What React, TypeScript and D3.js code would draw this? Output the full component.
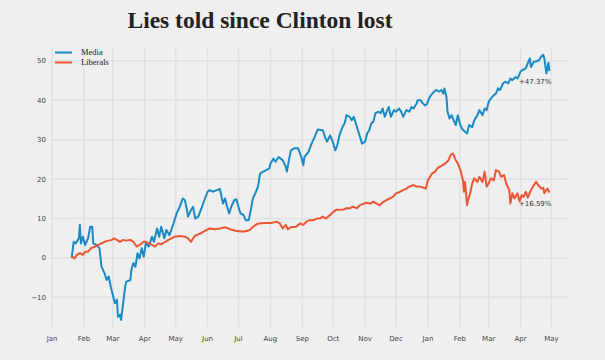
import React from "react";
import * as d3 from "d3";

const seriesNames = ["Media", "Liberals"];
const title = "Lies told since Clinton lost";
const monthLabels = ["Jan", "Feb", "Mar", "Apr", "May", "Jun", "Jul", "Aug", "Sep", "Oct", "Nov", "Dec", "Jan", "Feb", "Mar", "Apr", "May"];
const monthTickDates = ["2017-01-01", "2017-02-01", "2017-03-01", "2017-04-01", "2017-05-01", "2017-06-01", "2017-07-01", "2017-08-01", "2017-09-01", "2017-10-01", "2017-11-01", "2017-12-01", "2018-01-01", "2018-02-01", "2018-03-01", "2018-04-01", "2018-05-01"];
const yTicks = [-10, 0, 10, 20, 30, 40, 50];

const mediaDates = [
  "2017-01-20", "2017-01-22", "2017-01-24", "2017-01-27", "2017-01-28", "2017-01-29", "2017-01-31", "2017-02-02", "2017-02-05", "2017-02-07",
  "2017-02-09", "2017-02-10", "2017-02-13", "2017-02-16", "2017-02-18", "2017-02-21", "2017-02-23", "2017-02-25", "2017-02-27", "2017-03-01",
  "2017-03-03", "2017-03-05", "2017-03-06", "2017-03-08", "2017-03-09", "2017-03-11", "2017-03-13", "2017-03-14", "2017-03-18", "2017-03-19",
  "2017-03-21", "2017-03-23", "2017-03-25", "2017-03-27", "2017-03-29", "2017-03-31", "2017-04-02", "2017-04-05", "2017-04-08", "2017-04-10",
  "2017-04-13", "2017-04-15", "2017-04-17", "2017-04-20", "2017-04-22", "2017-04-25", "2017-04-29", "2017-05-02", "2017-05-05", "2017-05-08",
  "2017-05-10", "2017-05-12", "2017-05-13", "2017-05-16", "2017-05-18", "2017-05-20", "2017-05-23", "2017-05-26", "2017-05-29", "2017-06-01",
  "2017-06-03", "2017-06-06", "2017-06-10", "2017-06-13", "2017-06-16", "2017-06-18", "2017-06-20", "2017-06-22", "2017-06-24", "2017-06-27",
  "2017-06-29", "2017-07-01", "2017-07-03", "2017-07-06", "2017-07-08", "2017-07-11", "2017-07-13", "2017-07-15", "2017-07-18", "2017-07-20",
  "2017-07-22", "2017-07-25", "2017-07-28", "2017-07-31", "2017-08-01", "2017-08-04", "2017-08-06", "2017-08-09", "2017-08-11", "2017-08-13",
  "2017-08-16", "2017-08-17", "2017-08-19", "2017-08-21", "2017-08-24", "2017-08-28", "2017-08-31", "2017-09-02", "2017-09-03", "2017-09-07",
  "2017-09-10", "2017-09-13", "2017-09-16", "2017-09-20", "2017-09-21", "2017-09-23", "2017-09-25", "2017-09-28", "2017-09-30", "2017-10-03",
  "2017-10-05", "2017-10-07", "2017-10-10", "2017-10-12", "2017-10-14", "2017-10-17", "2017-10-19", "2017-10-21", "2017-10-23", "2017-10-25",
  "2017-10-27", "2017-10-29", "2017-11-01", "2017-11-03", "2017-11-05", "2017-11-07", "2017-11-09", "2017-11-11", "2017-11-14", "2017-11-16",
  "2017-11-18", "2017-11-20", "2017-11-22", "2017-11-24", "2017-11-26", "2017-11-29", "2017-12-01", "2017-12-04", "2017-12-06", "2017-12-08",
  "2017-12-11", "2017-12-14", "2017-12-16", "2017-12-18", "2017-12-21", "2017-12-22", "2017-12-25", "2017-12-27", "2017-12-29", "2017-12-31",
  "2018-01-02", "2018-01-04", "2018-01-07", "2018-01-09", "2018-01-12", "2018-01-14", "2018-01-16", "2018-01-17", "2018-01-19", "2018-01-20",
  "2018-01-22", "2018-01-24", "2018-01-26", "2018-01-28", "2018-01-30", "2018-02-01", "2018-02-03", "2018-02-06", "2018-02-08", "2018-02-10",
  "2018-02-13", "2018-02-15", "2018-02-18", "2018-02-20", "2018-02-23", "2018-02-25", "2018-02-27", "2018-03-01", "2018-03-03", "2018-03-06",
  "2018-03-08", "2018-03-10", "2018-03-12", "2018-03-15", "2018-03-17", "2018-03-20", "2018-03-22", "2018-03-24", "2018-03-27", "2018-03-29",
  "2018-04-01", "2018-04-03", "2018-04-06", "2018-04-08", "2018-04-10", "2018-04-11", "2018-04-14", "2018-04-16", "2018-04-19", "2018-04-21",
  "2018-04-23", "2018-04-24", "2018-04-26", "2018-04-28", "2018-04-29"
];
const mediaValues = [
  0.0, 4.1, 3.7, 5.0, 8.4, 3.7, 5.4, 3.3, 5.0, 7.9,
  7.9, 3.7, 3.3, 2.5, -2.2, -3.9, -5.6, -4.7, -7.3, -9.4,
  -11.5, -10.6, -14.9, -14.4, -15.7, -11.5, -7.3, -6.0, -5.6, -3.0,
  -1.3, -2.2, 1.2, -0.1, 2.5, 0.3, 3.7, 2.9, 5.4, 4.1,
  7.5, 5.4, 7.9, 5.0, 7.1, 5.8, 8.8, 11.3, 13.0, 15.1,
  14.7, 12.2, 10.5, 12.2, 13.0, 10.0, 10.5, 12.6, 14.7, 16.8,
  17.2, 16.8, 17.2, 17.5, 13.8, 15.1, 13.0, 11.3, 13.0, 14.7,
  14.9, 13.0, 11.3, 10.9, 9.6, 9.6, 12.2, 15.1, 16.8, 18.1,
  21.4, 21.9, 22.3, 22.7, 23.9, 25.2, 24.4, 25.6, 25.2, 24.8,
  23.1, 21.9, 24.8, 27.3, 27.8, 27.8, 25.6, 23.5, 25.6, 26.9,
  29.0, 30.7, 32.6, 32.4, 32.4, 30.7, 29.5, 31.1, 29.9, 27.3,
  28.6, 31.1, 33.2, 34.1, 36.2, 35.8, 34.9, 35.8, 34.1, 32.4,
  30.7, 29.0, 29.5, 31.6, 32.4, 34.1, 34.6, 36.7, 37.1, 36.7,
  37.9, 35.8, 37.1, 38.3, 35.8, 37.5, 37.1, 37.9, 37.1, 35.8,
  37.5, 37.1, 38.3, 37.9, 39.2, 40.0, 40.0, 39.2, 38.7, 39.0,
  40.4, 41.3, 42.2, 42.6, 42.2, 42.6, 41.7, 43.0, 40.8, 37.1,
  35.4, 36.2, 34.9, 33.7, 36.2, 34.1, 32.8, 32.0, 31.6, 33.7,
  33.2, 34.9, 36.2, 37.5, 36.2, 37.9, 37.5, 39.6, 40.4, 41.3,
  41.7, 43.0, 42.6, 44.3, 44.7, 44.3, 45.5, 45.1, 45.9, 45.5,
  47.3, 47.7, 48.1, 49.4, 50.6, 48.4, 49.8, 49.8, 50.2, 51.1,
  51.5, 50.6, 46.8, 49.5, 47.37
];

const liberalDates = [
  "2017-01-20", "2017-01-21", "2017-01-23", "2017-01-25", "2017-01-28", "2017-01-31", "2017-02-02", "2017-02-05", "2017-02-08", "2017-02-12",
  "2017-02-15", "2017-02-18", "2017-02-21", "2017-02-25", "2017-02-28", "2017-03-02", "2017-03-05", "2017-03-08", "2017-03-11", "2017-03-14",
  "2017-03-18", "2017-03-21", "2017-03-24", "2017-03-27", "2017-03-31", "2017-04-02", "2017-04-05", "2017-04-08", "2017-04-11", "2017-04-14",
  "2017-04-17", "2017-04-21", "2017-04-24", "2017-04-27", "2017-04-30", "2017-05-05", "2017-05-10", "2017-05-13", "2017-05-16", "2017-05-19",
  "2017-05-21", "2017-05-25", "2017-05-28", "2017-05-31", "2017-06-03", "2017-06-08", "2017-06-13", "2017-06-18", "2017-06-23", "2017-06-28",
  "2017-07-03", "2017-07-07", "2017-07-12", "2017-07-15", "2017-07-19", "2017-07-23", "2017-07-28", "2017-08-02", "2017-08-07", "2017-08-10",
  "2017-08-13", "2017-08-16", "2017-08-18", "2017-08-21", "2017-08-26", "2017-08-30", "2017-09-02", "2017-09-05", "2017-09-08", "2017-09-12",
  "2017-09-15", "2017-09-18", "2017-09-21", "2017-09-24", "2017-09-28", "2017-10-01", "2017-10-04", "2017-10-07", "2017-10-11", "2017-10-14",
  "2017-10-17", "2017-10-20", "2017-10-24", "2017-10-27", "2017-10-30", "2017-11-02", "2017-11-06", "2017-11-09", "2017-11-12", "2017-11-15",
  "2017-11-19", "2017-11-22", "2017-11-25", "2017-11-28", "2017-12-01", "2017-12-05", "2017-12-08", "2017-12-11", "2017-12-14", "2017-12-18",
  "2017-12-21", "2017-12-24", "2017-12-28", "2017-12-30", "2018-01-01", "2018-01-05", "2018-01-08", "2018-01-10", "2018-01-12", "2018-01-15",
  "2018-01-18", "2018-01-21", "2018-01-23", "2018-01-25", "2018-01-26", "2018-01-28", "2018-01-30", "2018-02-02", "2018-02-04", "2018-02-05",
  "2018-02-06", "2018-02-08", "2018-02-09", "2018-02-11", "2018-02-13", "2018-02-15", "2018-02-18", "2018-02-20", "2018-02-23", "2018-02-25",
  "2018-02-27", "2018-03-01", "2018-03-03", "2018-03-06", "2018-03-08", "2018-03-11", "2018-03-13", "2018-03-16", "2018-03-18", "2018-03-21",
  "2018-03-22", "2018-03-24", "2018-03-26", "2018-03-29", "2018-03-31", "2018-04-02", "2018-04-04", "2018-04-06", "2018-04-08", "2018-04-11",
  "2018-04-13", "2018-04-16", "2018-04-18", "2018-04-21", "2018-04-23", "2018-04-24", "2018-04-27", "2018-04-29"
];
const liberalValues = [
  0.0, 0.3, -0.1, 0.8, 1.2, 0.8, 1.6, 1.6, 2.5, 2.9,
  3.3, 3.7, 4.1, 4.4, 4.6, 5.0, 4.6, 4.1, 4.6, 4.4,
  4.6, 4.1, 2.9, 3.3, 4.1, 4.1, 3.7, 3.3, 2.9, 3.7,
  3.5, 4.1, 4.6, 5.0, 5.4, 5.6, 5.4, 5.0, 4.1, 5.4,
  5.8, 6.2, 6.7, 7.1, 7.5, 7.3, 7.5, 7.8, 7.3, 6.9,
  6.7, 6.7, 7.1, 7.9, 8.6, 8.8, 8.9, 8.9, 9.2, 8.8,
  7.5, 8.4, 7.3, 7.8, 7.9, 8.8, 8.4, 9.2, 9.6, 9.6,
  10.0, 10.0, 10.5, 10.0, 10.9, 11.7, 12.2, 12.2, 12.3, 12.6,
  12.6, 13.0, 12.6, 13.4, 13.7, 14.0, 13.8, 14.3, 13.8, 13.4,
  14.3, 14.7, 15.1, 15.5, 16.4, 16.8, 17.2, 17.6, 18.1, 18.5,
  18.1, 18.1, 17.8, 17.6, 19.7, 21.4, 21.9, 22.7, 23.1, 23.5,
  24.0, 24.8, 26.1, 26.5, 26.1, 24.8, 24.0, 21.9, 19.7, 16.8,
  19.3, 13.4, 14.7, 16.4, 18.9, 20.2, 19.3, 20.6, 19.3, 21.9,
  18.1, 18.9, 20.2, 19.7, 22.3, 21.9, 20.6, 21.0, 18.9, 17.2,
  13.8, 16.4, 15.1, 16.4, 14.3, 15.9, 15.5, 16.8, 15.3, 17.2,
  18.1, 19.3, 18.5, 17.6, 17.8, 16.4, 17.6, 16.59
];

const colors = ["#1a8ac4", "#ec5634"];

const W = 605;
const H = 360;
const plot = { left: 50, right: 568, top: 47, bottom: 327 };

export default function App() {
  const parse = d3.timeParse("%Y-%m-%d");
  const x = d3
    .scaleTime()
    .domain([parse("2016-12-30")!, parse("2018-05-17")!])
    .range([plot.left, plot.right]);
  const y = d3.scaleLinear().domain([-17.5, 53.5]).range([plot.bottom, plot.top]);

  const series = [
    { name: seriesNames[0], dates: mediaDates, values: mediaValues, color: colors[0] },
    { name: seriesNames[1], dates: liberalDates, values: liberalValues, color: colors[1] },
  ].map((s) => ({
    ...s,
    points: s.dates.map((d, i) => ({ date: parse(d)!, value: s.values[i] })),
  }));

  const line = d3
    .line<{ date: Date; value: number }>()
    .x((d) => x(d.date))
    .y((d) => y(d.value));

  const fmtTick = (v: number) => (v < 0 ? "\u2212" + Math.abs(v) : String(v));

  return (
    <div style={{ position: "absolute", left: 0, top: 0 }}>
      <svg width={W} height={H} style={{ display: "block", background: "#efefef" }}>
        <rect x={0} y={0} width={W} height={H} fill="#efefef" />
        {/* grid */}
        {yTicks.map((t) => (
          <line key={"gy" + t} x1={plot.left} x2={plot.right} y1={y(t)} y2={y(t)} stroke="#e2e2e2" strokeWidth={1.6} />
        ))}
        {monthTickDates.map((d, i) => (
          <line key={"gx" + i} x1={x(parse(d)!)} x2={x(parse(d)!)} y1={plot.top} y2={plot.bottom} stroke="#e2e2e2" strokeWidth={1.6} />
        ))}
        {/* y tick labels */}
        {yTicks.map((t) => (
          <text key={"ty" + t} x={46} y={y(t)} dy="0.35em" textAnchor="end" fontFamily="DejaVu Sans" fontSize={7} fill="#444">
            {fmtTick(t)}
          </text>
        ))}
        {/* x tick labels */}
        {monthTickDates.map((d, i) => (
          <text key={"tx" + i} x={x(parse(d)!)} y={339} dy="0.35em" textAnchor="middle" fontFamily="DejaVu Sans" fontSize={7} fill="#444">
            {monthLabels[i]}
          </text>
        ))}
        {/* lines */}
        {series.map((s) => (
          <path key={s.name} d={line(s.points) || ""} fill="none" stroke={s.color} strokeWidth={2} strokeLinejoin="round" />
        ))}
        {/* end annotations */}
        {series.map((s) => {
          const last = s.points[s.points.length - 1];
          return (
            <text key={"a" + s.name} x={x(last.date) + 2} y={y(last.value) + 13} textAnchor="end" fontFamily="DejaVu Sans" fontSize={7} fill="#333">
              {"+" + last.value.toFixed(2) + "%"}
            </text>
          );
        })}
        {/* legend */}
        {series.map((s, i) => (
          <g key={"l" + s.name} transform={`translate(55, ${52.5 + i * 10})`}>
            <line x1={0} x2={17} y1={0} y2={0} stroke={s.color} strokeWidth={2} />
            <text x={26} y={0} dy="0.35em" fontFamily="Liberation Serif" fontSize={8.5} fill="#222">
              {s.name}
            </text>
          </g>
        ))}
        {/* title */}
        <text x={260} y={28} textAnchor="middle" fontFamily="Liberation Serif" fontWeight="bold" fontSize={23.5} fill="#222">
          {title}
        </text>
      </svg>
    </div>
  );
}
